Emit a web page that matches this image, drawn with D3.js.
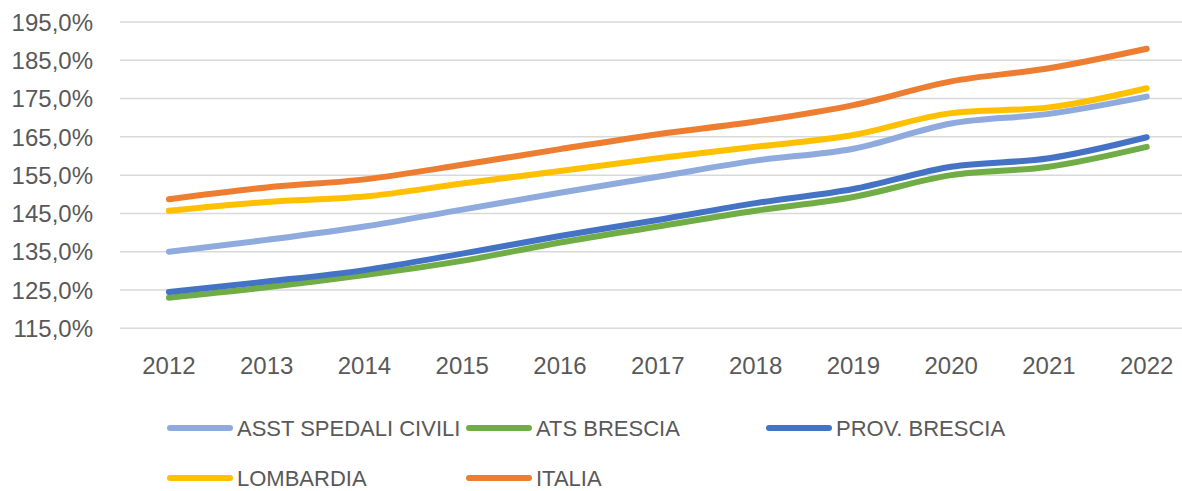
<!DOCTYPE html>
<html>
<head>
<meta charset="utf-8">
<script src="https://cdn.jsdelivr.net/npm/d3@7/dist/d3.min.js"></script>
<style>
  html, body { margin: 0; padding: 0; background: #fff; }
  svg { display: block; }
  text { font-family: "Liberation Sans", Arial, sans-serif; fill: #595959; }
</style>
</head>
<body>
<svg id="chart" width="1182" height="491"></svg>
<script>
// Years on the category axis
const years = ["2012","2013","2014","2015","2016","2017","2018","2019","2020","2021","2022"];

// Series values (%)
const asstSpedaliCivili = [135.0, 138.1, 141.6, 146.0, 150.4, 154.6, 158.8, 161.9, 168.5, 171.0, 175.5];
const atsBrescia        = [123.0, 125.7, 128.9, 132.6, 137.4, 141.6, 145.7, 149.3, 155.0, 157.2, 162.4];
const provBrescia       = [124.5, 127.2, 130.2, 134.5, 139.1, 143.3, 147.7, 151.4, 157.2, 159.4, 164.9];
const lombardia         = [145.7, 148.0, 149.4, 152.8, 156.1, 159.4, 162.4, 165.5, 171.2, 172.7, 177.7];
const italia            = [148.7, 151.8, 153.9, 157.7, 161.8, 165.7, 169.0, 173.3, 179.5, 182.9, 188.0];

// Value axis ticks
const yTicks = [115, 125, 135, 145, 155, 165, 175, 185, 195];

const seriesNames = ["ASST SPEDALI CIVILI", "ATS BRESCIA", "PROV. BRESCIA", "LOMBARDIA", "ITALIA"];
const seriesValues = [asstSpedaliCivili, atsBrescia, provBrescia, lombardia, italia];
const seriesColors = ["#8FAADC", "#70AD47", "#4472C4", "#FFC000", "#ED7D31"];

const svg = d3.select("#chart");

const x = d3.scalePoint().domain(years).range([120, 1195.6]).padding(0.5);
const y = d3.scaleLinear().domain([115, 195]).range([328.3, 22]);

const itFormat = d3.formatLocale({ decimal: ",", thousands: ".", grouping: [3], currency: ["", "€"] }).format(".1f");

// Horizontal gridlines
svg.append("g")
  .selectAll("line")
  .data(yTicks)
  .join("line")
  .attr("x1", 120)
  .attr("x2", 1196)
  .attr("y1", d => y(d))
  .attr("y2", d => y(d))
  .attr("stroke", "#D9D9D9")
  .attr("stroke-width", 1.5);

// Value axis labels
svg.append("g")
  .selectAll("text")
  .data(yTicks)
  .join("text")
  .attr("x", 93)
  .attr("y", d => y(d))
  .attr("dy", "0.36em")
  .attr("text-anchor", "end")
  .style("font-size", "24px")
  .text(d => itFormat(d) + "%");

// Category axis labels
svg.append("g")
  .selectAll("text")
  .data(years)
  .join("text")
  .attr("x", d => x(d))
  .attr("y", 365)
  .attr("dy", "0.36em")
  .attr("text-anchor", "middle")
  .style("font-size", "24px")
  .text(d => d);

// Series lines
const line = d3.line()
  .x((d, i) => x(years[i]))
  .y(d => y(d))
  .curve(d3.curveMonotoneX);

svg.append("g")
  .selectAll("path")
  .data(seriesValues)
  .join("path")
  .attr("d", d => line(d))
  .attr("fill", "none")
  .attr("stroke", (d, i) => seriesColors[i])
  .attr("stroke-width", 6)
  .attr("stroke-linecap", "round")
  .attr("stroke-linejoin", "round");

// Legend
const legendPos = [
  { x: 167, y: 428 },
  { x: 466, y: 428 },
  { x: 766, y: 428 },
  { x: 167, y: 478 },
  { x: 466, y: 478 }
];

const legend = svg.append("g")
  .selectAll("g")
  .data(seriesNames)
  .join("g")
  .attr("transform", (d, i) => `translate(${legendPos[i].x},${legendPos[i].y})`);

legend.append("line")
  .attr("x1", 3)
  .attr("x2", 63)
  .attr("y1", 0)
  .attr("y2", 0)
  .attr("stroke", (d, i) => seriesColors[i])
  .attr("stroke-width", 6)
  .attr("stroke-linecap", "round");

legend.append("text")
  .attr("x", 70)
  .attr("y", 0)
  .attr("dy", "0.36em")
  .style("font-size", "22px")
  .text(d => d);
</script>
</body>
</html>
